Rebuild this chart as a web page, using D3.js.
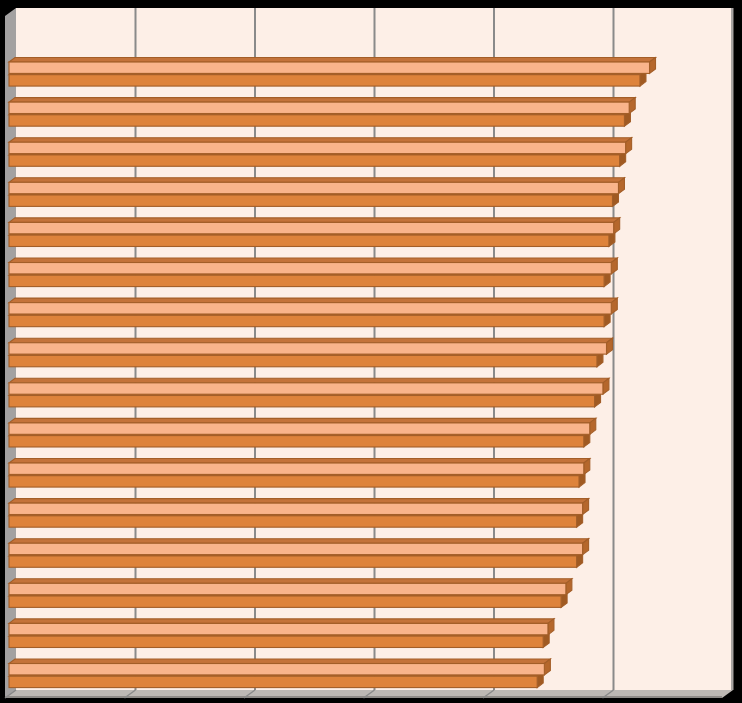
<!DOCTYPE html>
<html>
<head>
<meta charset="utf-8">
<script src="https://cdn.jsdelivr.net/npm/d3@7"></script>
<style>
  html, body { margin: 0; padding: 0; background: #000; }
  svg { display: block; }
</style>
</head>
<body>
<div id="chart"></div>
<script>
// 16 unlabeled categories, two series each (light bar on top, dark bar below)
const categories = ["1", "2", "3", "4", "5", "6", "7", "8", "9", "10", "11", "12", "13", "14", "15", "16"];
const seriesNames = ["light", "dark"];
const lightValues = [53.6, 51.9, 51.6, 51.0, 50.6, 50.4, 50.4, 50.0, 49.7, 48.6, 48.1, 48.0, 48.0, 46.6, 45.1, 44.8];
const darkValues  = [52.8, 51.5, 51.1, 50.5, 50.2, 49.8, 49.8, 49.2, 49.0, 48.1, 47.7, 47.5, 47.5, 46.2, 44.7, 44.2];
const gridTicks = [10, 20, 30, 40, 50];

const W = 742, H = 703;
const wall = {left: 16, right: 733, top: 8, bottom: 690};
const depth = {dx: -11, dy: 8};      // wall depth (front is down-left)
const barDepth = {dx: 6, dy: -4.5};  // bar top/end face offset
const barShift = -7;                 // bar front face sits in front of the back wall

const colors = {
    wall: "#fdefe7",
    sideWall: "#a3a1a1",
    floor: "#bdb8b4",
    grid: "#8a8a8a",
    light: {front: "#f9b48b", top: "#c4733a", end: "#b5672c"},
    dark: {front: "#de833b", top: "#b36829", end: "#a05a22"},
    stroke: "#a35e28"
};

const svg = d3.select("#chart").append("svg")
    .attr("width", W).attr("height", H);

svg.append("rect").attr("width", W).attr("height", H).attr("fill", "#000");

const x = d3.scaleLinear().domain([0, 60]).range([wall.left, wall.right]);
const y = d3.scaleBand().domain(categories).range([54, 54 + 16 * 40.1])
    .paddingInner(0.4).paddingOuter(0.2);
const ySub = d3.scaleBand().domain(seriesNames).range([0, y.bandwidth()]).paddingInner(0.1);

const pts = p => p.map(d => d.join(",")).join(" ");

// back wall
svg.append("rect")
    .attr("x", wall.left).attr("y", wall.top)
    .attr("width", wall.right - wall.left).attr("height", wall.bottom - wall.top)
    .attr("fill", colors.wall);
// right edge shade
svg.append("rect")
    .attr("x", wall.right - 2).attr("y", wall.top)
    .attr("width", 2.5).attr("height", wall.bottom - wall.top)
    .attr("fill", "#a8a4a2");

// left side wall
svg.append("polygon")
    .attr("points", pts([[wall.left, wall.top], [wall.left, wall.bottom],
        [wall.left + depth.dx, wall.bottom + depth.dy], [wall.left + depth.dx, wall.top + depth.dy]]))
    .attr("fill", colors.sideWall);

// floor
svg.append("polygon")
    .attr("points", pts([[wall.left, wall.bottom], [wall.right, wall.bottom],
        [wall.right + depth.dx, wall.bottom + depth.dy], [wall.left + depth.dx, wall.bottom + depth.dy]]))
    .attr("fill", colors.floor);
svg.append("line")
    .attr("x1", wall.left + depth.dx).attr("x2", wall.right + depth.dx)
    .attr("y1", wall.bottom + depth.dy - 1).attr("y2", wall.bottom + depth.dy - 1)
    .attr("stroke", "#8f8b88").attr("stroke-width", 2);

// grid lines on back wall and floor
const grid = svg.append("g");
grid.selectAll("line.back").data(gridTicks).join("line")
    .attr("class", "back")
    .attr("x1", d => x(d)).attr("x2", d => x(d))
    .attr("y1", wall.top).attr("y2", wall.bottom)
    .attr("stroke", colors.grid).attr("stroke-width", 2);
grid.selectAll("line.floor").data([0, ...gridTicks]).join("line")
    .attr("class", "floor")
    .attr("x1", d => x(d)).attr("x2", d => x(d) + depth.dx)
    .attr("y1", wall.bottom).attr("y2", wall.bottom + depth.dy)
    .attr("stroke", colors.grid).attr("stroke-width", 1.5);

// bars
const rows = categories.map((c, i) => ({cat: c, light: lightValues[i], dark: darkValues[i]}));
const bars = svg.append("g").selectAll("g").data(rows).join("g");

function drawBar(g, d, key) {
    const c = colors[key];
    const v = d[key];
    const x0 = x(0) + barShift, x1 = x(v) + barShift;
    const y0 = y(d.cat) + ySub(key), h = ySub.bandwidth();
    const {dx, dy} = barDepth;
    g.append("polygon")
        .attr("points", pts([[x0, y0], [x0 + dx, y0 + dy], [x1 + dx, y0 + dy], [x1, y0]]))
        .attr("fill", c.top).attr("stroke", colors.stroke).attr("stroke-width", 1.1);
    g.append("polygon")
        .attr("points", pts([[x1, y0], [x1 + dx, y0 + dy], [x1 + dx, y0 + h + dy], [x1, y0 + h]]))
        .attr("fill", c.end).attr("stroke", colors.stroke).attr("stroke-width", 1.1);
    g.append("rect")
        .attr("x", x0).attr("y", y0).attr("width", x1 - x0).attr("height", h)
        .attr("fill", c.front).attr("stroke", colors.stroke).attr("stroke-width", 1.1);
}

bars.each(function(d) {
    const g = d3.select(this);
    drawBar(g, d, "dark");
    drawBar(g, d, "light");
});
</script>
</body>
</html>
